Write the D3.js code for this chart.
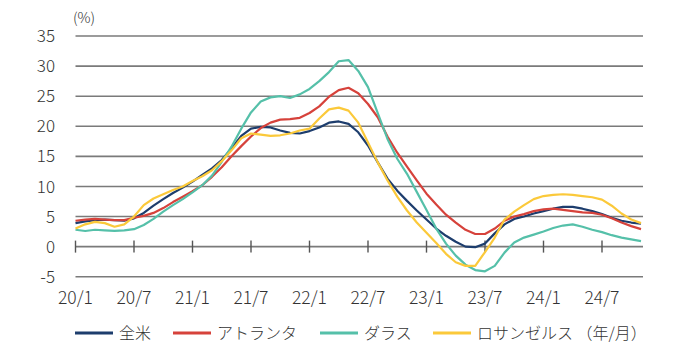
<!DOCTYPE html>
<html><head><meta charset="utf-8">
<script src="https://cdn.jsdelivr.net/npm/d3@7"></script>
<style>
html,body{margin:0;padding:0;background:#fff;}
text{font-family:"Noto Sans CJK JP","Noto Sans",sans-serif;fill:#333;font-weight:300;}
</style></head>
<body>
<svg id="chart" width="700" height="358"></svg>
<script>
const tickLabels = ["20/1","20/7","21/1","21/7","22/1","22/7","23/1","23/7","24/1","24/7"];
const yTicks = [-5,0,5,10,15,20,25,30,35];
const seriesNames = ["全米","アトランタ","ダラス","ロサンゼルス"];
const legendSuffix = "（年/月）";
// monthly YoY %, 2020/1 .. 2024/11
const national = [3.9,4.2,4.4,4.5,4.4,4.3,4.7,5.6,6.8,7.9,8.9,9.8,10.8,11.9,13.0,14.4,16.3,18.4,19.6,19.9,19.8,19.3,18.9,18.8,19.2,19.8,20.6,20.8,20.4,19.0,16.8,14.0,11.3,9.3,7.6,6.0,4.5,3.0,1.8,0.8,0.0,-0.1,0.5,2.2,3.7,4.6,5.0,5.5,5.9,6.3,6.6,6.6,6.3,5.9,5.4,4.8,4.3,4.0,3.8];
const atlanta = [4.3,4.5,4.6,4.5,4.4,4.4,4.8,5.1,5.6,6.4,7.4,8.3,9.2,10.2,11.6,13.2,15.0,16.7,18.3,19.7,20.6,21.1,21.2,21.4,22.2,23.3,24.9,26.0,26.4,25.5,23.7,21.5,18.3,15.6,13.3,11.0,8.8,7.0,5.3,4.0,2.8,2.1,2.1,3.0,4.3,5.0,5.4,5.9,6.2,6.3,6.1,5.9,5.7,5.6,5.3,4.7,4.0,3.4,2.9];
const dallas = [2.8,2.6,2.8,2.7,2.6,2.7,2.9,3.6,4.6,5.8,6.9,7.9,9.0,10.2,11.8,14.1,16.6,19.6,22.3,24.1,24.8,25.0,24.7,25.3,26.2,27.5,29.0,30.8,31.0,29.2,26.5,22.2,17.9,14.6,12.1,9.1,6.1,3.0,0.5,-1.5,-3.0,-3.9,-4.1,-3.2,-1.0,0.7,1.5,2.0,2.5,3.1,3.5,3.7,3.3,2.8,2.4,1.9,1.5,1.2,0.9];
const losAngeles = [3.0,3.7,4.1,3.9,3.3,3.7,5.0,6.9,8.0,8.7,9.4,10.0,10.9,11.7,12.7,14.2,16.0,18.0,18.8,18.6,18.4,18.5,18.8,19.3,19.6,21.3,22.8,23.1,22.6,20.6,17.3,14.0,11.0,8.3,6.0,4.0,2.3,0.6,-1.2,-2.6,-3.2,-3.2,-0.9,1.5,4.5,5.8,6.9,7.9,8.4,8.6,8.7,8.6,8.4,8.2,7.8,6.8,5.5,4.5,3.9];
const colors = ["#1d3d6d","#d6423b","#55c0a9","#fbc93a"];

const svg = d3.select("#chart");
const x = d3.scaleLinear().domain([0, 58]).range([75.5, 641]);
const y = d3.scaleLinear().domain([-5, 35]).range([276.7, 36]);
const xEnd = 643;

// gridlines
svg.append("g").selectAll("line").data(yTicks).join("line")
  .attr("x1", x(0)).attr("x2", xEnd)
  .attr("y1", d => y(d)).attr("y2", d => y(d))
  .attr("stroke", "#7a7a7a").attr("stroke-width", 1.6);

// y labels
svg.append("g").selectAll("text").data(yTicks).join("text")
  .attr("x", 55).attr("y", d => y(d)).attr("dy", "0.36em")
  .attr("text-anchor", "end").attr("font-size", 17).text(d => d);

svg.append("text").attr("x", 73).attr("y", 18).attr("dy","0.36em")
  .attr("font-size", 14.5).text("(%)");

// x ticks on zero line
const xTickVals = tickLabels.map((d, i) => i * 6);
svg.append("g").selectAll("line").data(xTickVals).join("line")
  .attr("x1", d => x(d)).attr("x2", d => x(d))
  .attr("y1", y(0) - 6).attr("y2", y(0) + 6)
  .attr("stroke", "#555").attr("stroke-width", 1.4);

svg.append("g").selectAll("text").data(tickLabels).join("text")
  .attr("x", (d, i) => x(i * 6)).attr("y", 298).attr("dy", "0.36em")
  .attr("text-anchor", "middle").attr("font-size", 17.5).text(d => d);

// lines
const all = [national, atlanta, dallas, losAngeles];
const line = d3.line().x((d, i) => x(i)).y(d => y(d));
all.forEach((s, k) => {
  svg.append("path").datum(s).attr("d", line)
    .attr("fill", "none").attr("stroke", colors[k]).attr("stroke-width", 2.2)
    .attr("stroke-linejoin", "round");
});

// legend
const legX = [75, 173, 320, 433];
const lg = svg.append("g");
seriesNames.forEach((n, k) => {
  lg.append("line").attr("x1", legX[k]).attr("x2", legX[k] + 38)
    .attr("y1", 333).attr("y2", 333).attr("stroke", colors[k]).attr("stroke-width", 3.2);
  lg.append("text").attr("x", legX[k] + 44).attr("y", 333).attr("dy", "0.36em")
    .attr("font-size", 16).text(k === 3 ? n + " " + legendSuffix : n);
});
</script>
</body></html>
